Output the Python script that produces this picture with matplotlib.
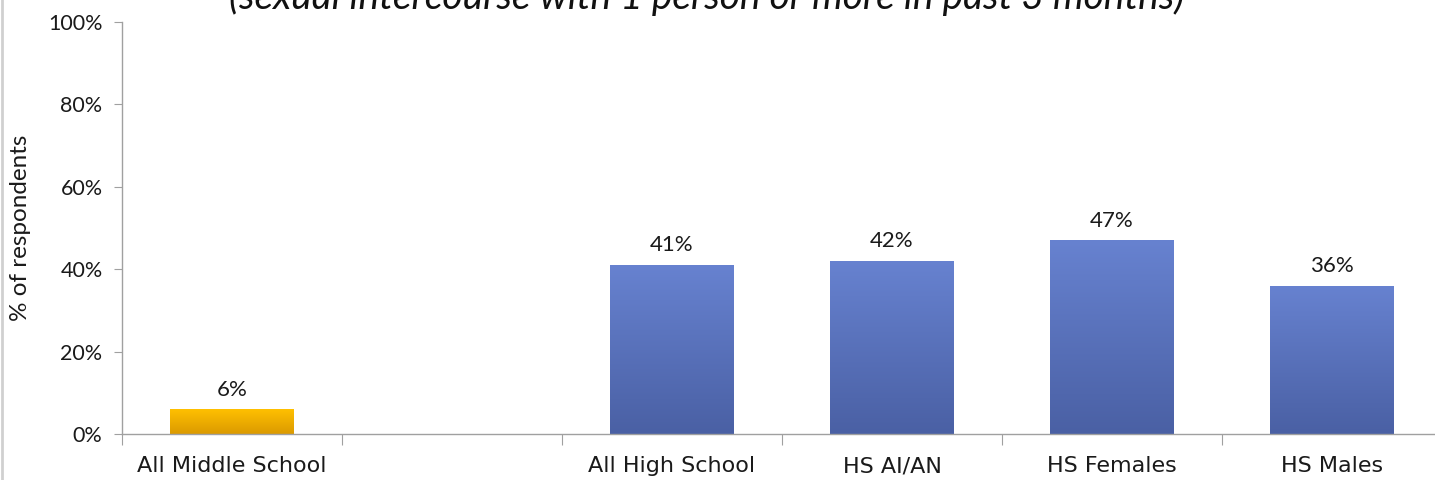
import numpy as np
import matplotlib
matplotlib.use("Agg")
import matplotlib.pyplot as plt
from matplotlib.colors import LinearSegmentedColormap

categories = ["All Middle School", "", "All High School", "HS AI/AN", "HS Females", "HS Males"]
values = [6, np.nan, 41, 42, 47, 36]
labels = ["6%", "", "41%", "42%", "47%", "36%"]
bar_kind = ["ms", "none", "hs", "hs", "hs", "hs"]
title = "(sexual intercourse with 1 person or more in past 3 months)"
ylabel = "% of respondents"
yticks = [0, 20, 40, 60, 80, 100]

plt.rcParams['font.family'] = ['DejaVu Sans']
NARROW = ['Lato', 'DejaVu Sans']

W, H = 1435, 480
fig = plt.figure(figsize=(W / 100, H / 100), dpi=100)
ax = fig.add_axes([122 / W, 46 / H, 1320 / W, 412 / H])

x = np.arange(len(categories))
width = 0.56
grads = {
    "ms": LinearSegmentedColormap.from_list("ms", ["#DB9A00", "#FFC000"]),
    "hs": LinearSegmentedColormap.from_list("hs", ["#4A60A4", "#6782D0"]),
}
grad = np.linspace(0, 1, 256).reshape(-1, 1)
for xi, v, kind, lab in zip(x, values, bar_kind, labels):
    if kind == "none" or np.isnan(v):
        continue
    bars = ax.bar(xi, v, width=width, color="none", edgecolor="none", zorder=2)
    rect = bars[0]
    im = ax.imshow(grad, cmap=grads[kind], origin="lower", aspect="auto",
                   extent=[xi - width / 2, xi + width / 2, 0, v], zorder=2)
    im.set_clip_path(rect)
    ax.annotate(lab, (xi, v), xytext=(0, 7), textcoords="offset points",
                ha="center", va="bottom", fontsize=16, color="#1a1a1a",
                family=NARROW)

ax.set_xlim(-0.5, len(categories) - 0.5)
ax.set_ylim(0, 100)
ax.set_yticks(yticks)
ax.set_yticklabels([f"{t}%" for t in yticks], fontsize=15.5, color="#1a1a1a",
                   family=NARROW)
ax.set_xticks(np.arange(len(categories) + 1) - 0.5)
ax.set_xticklabels([])
ax.set_xticks(x, minor=True)
ax.set_xticklabels(categories, minor=True, fontsize=16, color="#1a1a1a")
ax.tick_params(axis="x", which="major", length=8, color="#a0a0a0", direction="out")
ax.tick_params(axis="x", which="minor", length=0, pad=16)
ax.tick_params(axis="y", length=6, color="#a0a0a0", pad=8)
for s in ["top", "right"]:
    ax.spines[s].set_visible(False)
for s in ["left", "bottom"]:
    ax.spines[s].set_color("#a0a0a0")
    ax.spines[s].set_linewidth(1.0)
ax.set_ylabel(ylabel, fontsize=17.5, color="#1a1a1a", family=NARROW)
ax.yaxis.set_label_coords((31 - 122) / 1320, 0.5)

fig.text(707 / W, 1 - 9 / H, title, ha="center", va="baseline", fontsize=28,
         style="italic", color="#111111", family=NARROW)
fig.add_artist(plt.Line2D([2 / W, 2 / W], [0, 1], color="#d0d0d0", lw=2,
                          transform=fig.transFigure))

fig.savefig("out.png", dpi=100)
